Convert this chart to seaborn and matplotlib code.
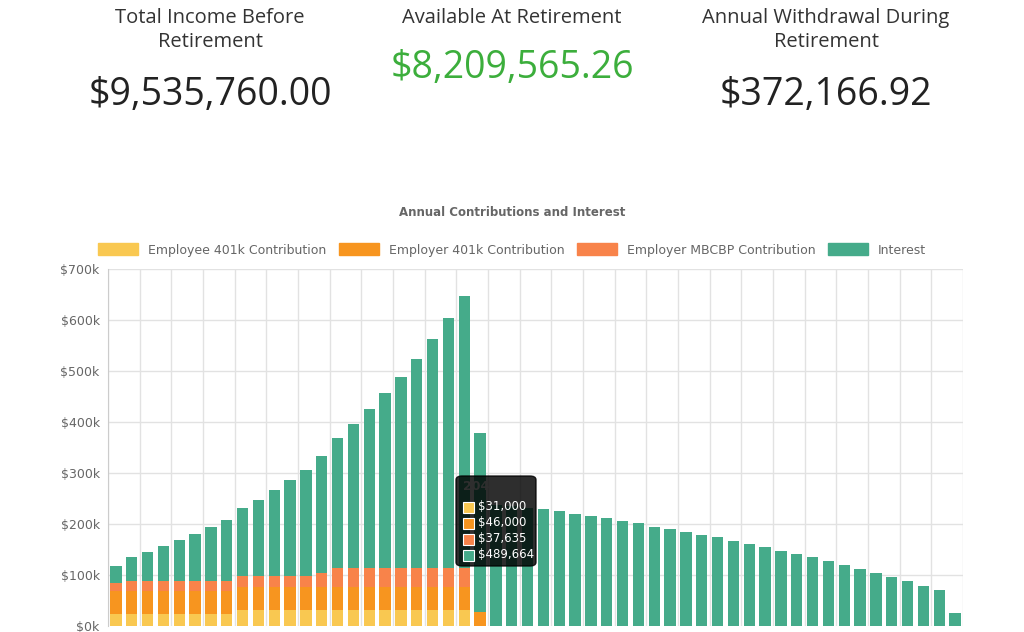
import numpy as np
import pandas as pd
import seaborn as sns
import matplotlib.pyplot as plt
from matplotlib.patches import Patch, FancyBboxPatch

years = list(range(2025, 2079))
employee = [23.5] * 8 + [31] * 15 + [0] * 31
employer = [46] * 23 + [28] + [0] * 30
mbcbp = [14.5] + [19.6] * 7 + [22] * 5 + [26] + [37.6] * 9 + [0] * 31
totals = [118, 136, 146, 157, 169, 181, 194, 208, 231, 248, 266, 286, 306, 333,
          369, 396, 425, 456, 489, 524, 562, 604, 647, 378, 238, 235, 232, 229,
          225, 220, 216, 211, 206, 201, 195, 190, 185, 179, 174, 167, 161, 155,
          148, 141, 135, 127, 120, 112, 104, 96, 88, 79, 71, 26]

C_EMP = '#f9c851'
C_ER = '#f7951f'
C_MB = '#f8834a'
C_INT = '#45ab8a'

df = pd.DataFrame({'year': years, 'employee': employee, 'employer': employer,
                   'mbcbp': mbcbp, 'total': totals})
df['c1'] = df['employee'] * 1000
df['c2'] = (df['employee'] + df['employer']) * 1000
df['c3'] = (df['employee'] + df['employer'] + df['mbcbp']) * 1000
df['c4'] = df['total'] * 1000

sns.set_style('white')
plt.rcParams['font.family'] = ['Open Sans', 'DejaVu Sans']
fig = plt.figure(figsize=(10.24, 6.32), dpi=100)
ax = fig.add_axes([108 / 1024, 6 / 632, 855 / 1024, 357 / 632])

for col, c in [('c4', C_INT), ('c3', C_MB), ('c2', C_ER), ('c1', C_EMP)]:
    sns.barplot(data=df, x='year', y=col, color=c, width=0.72, ax=ax,
                saturation=1, edgecolor='none')

ax.set_ylim(0, 700000)
ax.set_xlim(-0.5, len(years) - 0.5)
ax.set_yticks(np.arange(0, 700001, 100000))
ax.set_yticklabels(['$0k'] + [f'${v}k' for v in range(100, 701, 100)],
                   fontsize=9, color='#666666', family='DejaVu Sans')
ax.set_xticks([])
for yv in np.arange(100000, 700001, 100000):
    ax.axhline(yv, color='#e2e2e2', lw=1, zorder=0)
for xv in np.arange(-0.5, len(years), 2):
    ax.axvline(xv, color='#e2e2e2', lw=1, zorder=0)
ax.set_xlabel('')
ax.set_ylabel('')
for s in ['top', 'right', 'bottom']:
    ax.spines[s].set_visible(False)
ax.spines['left'].set_color('#cccccc')
ax.tick_params(axis='y', length=0, pad=6)

# tooltip
tip = FancyBboxPatch((456 / 1024, 1 - 566 / 632), 80 / 1024, 90 / 632,
                     boxstyle='round,pad=0,rounding_size=0.006',
                     transform=fig.transFigure, color='black', alpha=0.82, zorder=5)
fig.patches.append(tip)
fig.text(463 / 1024, 1 - 487 / 632, '2046', color='white', fontsize=9,
         fontweight='bold', family='DejaVu Sans', va='center')
for i, (c, t) in enumerate([(C_EMP, '$31,000'), (C_ER, '$46,000'),
                            (C_MB, '$37,635'), (C_INT, '$489,664')]):
    yy = 1 - (507 + i * 16) / 632
    fig.patches.append(plt.Rectangle((463 / 1024, yy - 5.5 / 632), 11 / 1024, 11 / 632,
                                     transform=fig.transFigure, facecolor=c,
                                     edgecolor='white', lw=0.8, zorder=6))
    fig.text(478 / 1024, yy, t, color='white', fontsize=8.5, family='DejaVu Sans',
             va='center', zorder=7)

fig.text(0.5, 1 - 213 / 632, 'Annual Contributions and Interest', ha='center',
         va='center', fontsize=8.5, fontweight='bold', color='#666666', family='DejaVu Sans')
handles = [Patch(color=C_EMP, label='Employee 401k Contribution'),
           Patch(color=C_ER, label='Employer 401k Contribution'),
           Patch(color=C_MB, label='Employer MBCBP Contribution'),
           Patch(color=C_INT, label='Interest')]
fig.legend(handles=handles, loc='center', bbox_to_anchor=(0.5, 1 - 250 / 632), ncol=4,
           frameon=False, handlelength=3.2, handleheight=1.1, columnspacing=1.0,
           prop={'family': 'DejaVu Sans', 'size': 9}, labelcolor='#666666')

# headline stats
for x, lab, val, col in [(210, 'Total Income Before\nRetirement', '$9,535,760.00', '#222222'),
                         (512, 'Available At Retirement', '$8,209,565.26', '#3cae3c'),
                         (826, 'Annual Withdrawal During\nRetirement', '$372,166.92', '#222222')]:
    fig.text(x / 1024, 1 - 8 / 632, lab, ha='center', va='top', fontsize=14.5,
             color='#333333', linespacing=1.25)
    vy = 95 if '\n' in lab else 68
    fig.text(x / 1024, 1 - vy / 632, val, ha='center', va='center', fontsize=27,
             color=col)

fig.savefig('out.png', dpi=100)
